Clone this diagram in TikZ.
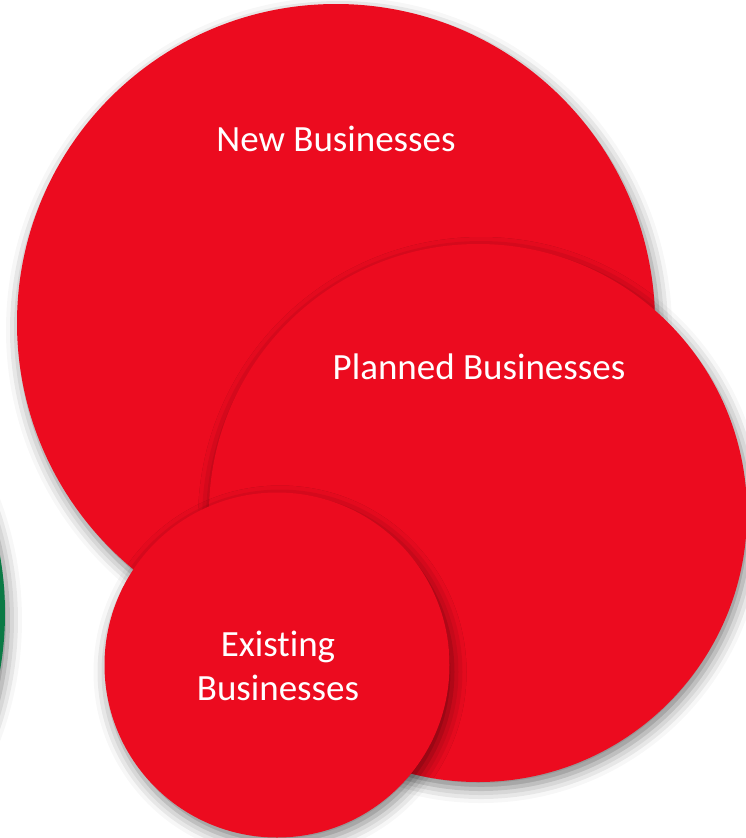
\documentclass[tikz,border=0pt]{standalone}
\usepackage{fontspec}
\setmainfont{Carlito}[Ligatures=CommonOff]
\usetikzlibrary{shadows.blur}
\definecolor{bizred}{HTML}{EC0B1F}
\definecolor{bizgreen}{HTML}{0B7A45}
\begin{document}
\begin{tikzpicture}[x=1pt,y=-1pt,
  bubble/.style={circle,fill=bizred,draw=none,inner sep=0pt,
    blur shadow={shadow xshift=3pt,shadow yshift=-7pt,shadow blur radius=14pt,shadow opacity=50}},
  greenbubble/.style={circle,fill=bizgreen,draw=none,inner sep=0pt,
    blur shadow={shadow xshift=3pt,shadow yshift=-7pt,shadow blur radius=14pt,shadow opacity=50}},
  lbl/.style={text=white,font=\fontsize{37}{44}\selectfont,align=center,inner sep=0pt}]
\useasboundingbox (0,0) rectangle (746,838);
\node[greenbubble,minimum size=660pt] (green) at (-325,613) {};
\node[bubble,minimum size=638pt] (newc) at (336,323) {};
\node[bubble,minimum size=538pt] (planc) at (478,513) {};
\node[bubble,minimum size=345pt] (exc) at (277,665) {};
\node[lbl] (newt) at (336,139) {New Businesses};
\node[lbl] (plant) at (479,367) {Planned Businesses};
\node[lbl] (ext) at (278,666) {Existing\\Businesses};
\end{tikzpicture}
\end{document}
